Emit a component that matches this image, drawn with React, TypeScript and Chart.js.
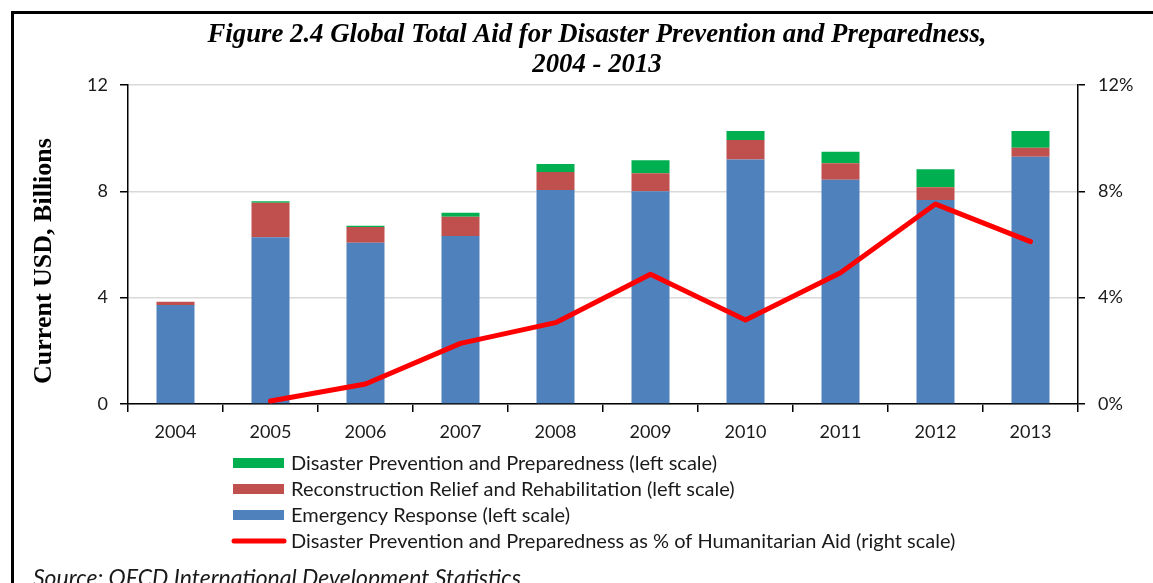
import { useEffect, useRef } from 'react';
import { Chart, registerables } from 'chart.js';

Chart.register(...registerables);

// Years on the category axis
const years = ['2004', '2005', '2006', '2007', '2008', '2009', '2010', '2011', '2012', '2013'];

// Aid components, current USD billions (left scale)
const emergencyResponse = [3.72, 6.27, 6.07, 6.32, 8.05, 8.0, 9.2, 8.44, 7.67, 9.3];
const reconstructionRelief = [0.13, 1.3, 0.59, 0.72, 0.68, 0.68, 0.73, 0.62, 0.48, 0.34];
const preventionPreparedness = [0.0, 0.06, 0.05, 0.15, 0.3, 0.49, 0.34, 0.43, 0.68, 0.63];

// Prevention and preparedness as share of humanitarian aid, % (right scale)
const preventionShare = [null, 0.11, 0.75, 2.28, 3.06, 4.88, 3.16, 4.94, 7.52, 6.11];

// Axis ticks
const leftTicks = [0, 4, 8, 12];
const rightTicks = [0, 4, 8, 12];

const titleLines = [
  'Figure 2.4 Global Total Aid for Disaster Prevention and Preparedness,',
  '2004 - 2013',
];
const yAxisTitle = 'Current USD, Billions';
const sourceNote = 'Source: OECD International Development Statistics';

const legendLabels = [
  'Disaster Prevention and Preparedness (left scale)',
  'Reconstruction Relief and Rehabilitation (left scale)',
  'Emergency Response (left scale)',
  'Disaster Prevention and Preparedness as % of Humanitarian Aid (right scale)',
];
// dataset index shown on each legend row
const legendOrder = [2, 1, 0, 3];

const BLUE = '#4f81bd';
const RED = '#c0504d';
const GREEN = '#00b050';
const LINE_RED = '#ff0000';
const TEXT = '#1a1a1a';

// Draws text horizontally condensed by factor sx
function fillCondensed(ctx: CanvasRenderingContext2D, text: string, x: number, y: number, sx: number) {
  ctx.save();
  ctx.translate(x, y);
  ctx.scale(sx, 1);
  ctx.fillText(text, 0, 0);
  ctx.restore();
}

const figureText = {
  id: 'figureText',
  afterDraw(chart: any) {
    const ctx: CanvasRenderingContext2D = chart.ctx;
    ctx.save();
    ctx.fillStyle = '#000';

    // Title, two centred lines
    ctx.font = 'italic bold 28px "Liberation Serif"';
    ctx.textAlign = 'center';
    ctx.textBaseline = 'middle';
    const w0 = ctx.measureText(titleLines[0]).width;
    const sx = Math.min(1, 779 / w0);
    fillCondensed(ctx, titleLines[0], 597, 35, sx);
    fillCondensed(ctx, titleLines[1], 597, 65, sx);

    // Left axis title
    ctx.save();
    ctx.translate(44, 261);
    ctx.rotate(-Math.PI / 2);
    ctx.font = 'bold 26px "Liberation Serif"';
    ctx.fillText(yAxisTitle, 0, 0);
    ctx.restore();

    // Legend, one entry per row
    ctx.textAlign = 'left';
    ctx.textBaseline = 'middle';
    ctx.font = '20px Lato';
    legendOrder.forEach((dsIndex, row) => {
      const ds = chart.data.datasets[dsIndex];
      const y = 463 + row * 26;
      if (ds.type === 'line') {
        ctx.strokeStyle = ds.borderColor;
        ctx.lineWidth = 5;
        ctx.lineCap = 'round';
        ctx.beginPath();
        ctx.moveTo(234, y);
        ctx.lineTo(284, y);
        ctx.stroke();
      } else {
        ctx.fillStyle = ds.backgroundColor;
        ctx.fillRect(233, y - 5, 51, 10);
      }
      ctx.fillStyle = TEXT;
      ctx.fillText(legendLabels[row], 291, y + 1);
    });

    // Source note
    ctx.font = 'italic 23px Lato';
    ctx.textBaseline = 'alphabetic';
    ctx.fillStyle = TEXT;
    ctx.fillText(sourceNote, 33, 586);

    ctx.restore();
  },
};

export default function App() {
  const canvasRef = useRef<HTMLCanvasElement | null>(null);

  useEffect(() => {
    if (!canvasRef.current) return;
    Chart.defaults.font.family = 'Lato';
    Chart.defaults.font.size = 18;
    Chart.defaults.color = TEXT;

    const chart = new Chart(canvasRef.current, {
      type: 'bar',
      data: {
        labels: years,
        datasets: [
          {
            type: 'bar',
            label: 'Emergency Response (left scale)',
            data: emergencyResponse,
            backgroundColor: BLUE,
            yAxisID: 'y',
            order: 1,
          },
          {
            type: 'bar',
            label: 'Reconstruction Relief and Rehabilitation (left scale)',
            data: reconstructionRelief,
            backgroundColor: RED,
            yAxisID: 'y',
            order: 1,
          },
          {
            type: 'bar',
            label: 'Disaster Prevention and Preparedness (left scale)',
            data: preventionPreparedness,
            backgroundColor: GREEN,
            yAxisID: 'y',
            order: 1,
          },
          {
            type: 'line',
            label: 'Disaster Prevention and Preparedness as % of Humanitarian Aid (right scale)',
            data: preventionShare,
            borderColor: LINE_RED,
            backgroundColor: LINE_RED,
            borderWidth: 5,
            pointRadius: 0,
            borderCapStyle: 'round',
            borderJoinStyle: 'round',
            tension: 0,
            yAxisID: 'y1',
            order: 0,
          },
        ] as any,
      },
      options: {
        animation: false,
        responsive: true,
        maintainAspectRatio: false,
        layout: { padding: { top: 85, left: 0, right: 0, bottom: 0 } },
        datasets: {
          bar: { categoryPercentage: 0.8, barPercentage: 0.5 },
        },
        plugins: {
          legend: { display: false },
          title: { display: false },
          tooltip: { enabled: false },
        },
        scales: {
          x: {
            stacked: true,
            offset: true,
            grid: {
              offset: true,
              drawOnChartArea: false,
              tickLength: 8,
              tickColor: '#000',
              lineWidth: 1.5,
            },
            border: { color: '#000', width: 1.5 },
            ticks: { padding: 9, color: TEXT, font: { size: 18 } },
            afterFit: (s: any) => {
              s.height = 583 - 404;
            },
          },
          y: {
            stacked: true,
            position: 'left',
            min: 0,
            max: 12,
            afterBuildTicks: (s: any) => {
              s.ticks = leftTicks.map((v) => ({ value: v }));
            },
            grid: {
              color: '#d9d9d9',
              lineWidth: 1.5,
              tickColor: '#000',
              tickLength: 8,
            },
            border: { color: '#000', width: 1.5 },
            ticks: { padding: 12, color: TEXT, font: { size: 18 } },
            afterFit: (s: any) => {
              s.width = 128;
            },
          },
          y1: {
            position: 'right',
            min: 0,
            max: 12,
            afterBuildTicks: (s: any) => {
              s.ticks = rightTicks.map((v) => ({ value: v }));
            },
            grid: {
              drawOnChartArea: false,
              tickColor: '#000',
              tickLength: 7,
              lineWidth: 1.5,
            },
            border: { color: '#000', width: 1.5 },
            ticks: {
              padding: 13,
              color: TEXT,
              font: { size: 18 },
              callback: (v: any) => `${v}%`,
            },
            afterFit: (s: any) => {
              s.width = 1153 - 1078;
            },
          },
        },
      } as any,
      plugins: [figureText],
    });

    return () => chart.destroy();
  }, []);

  return (
    <div
      style={{
        position: 'fixed',
        left: 0,
        top: 0,
        width: 1153,
        height: 583,
        overflow: 'hidden',
        background: '#fff',
      }}
    >
      <div
        style={{
          position: 'absolute',
          left: 11,
          top: 11,
          width: 1200,
          height: 700,
          borderLeft: '3px solid #000',
          borderTop: '3px solid #000',
        }}
      />
      <div style={{ position: 'absolute', left: 0, top: 0, width: 1153, height: 583 }}>
        <canvas ref={canvasRef} />
      </div>
    </div>
  );
}
